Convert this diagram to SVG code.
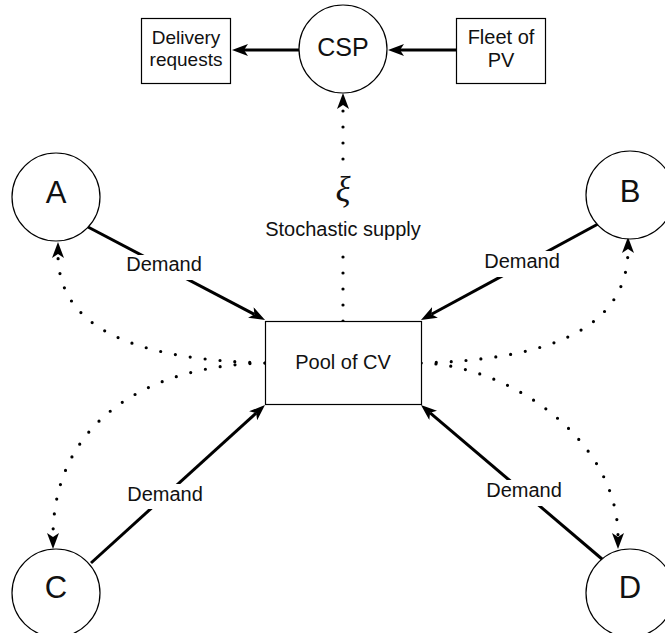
<svg xmlns="http://www.w3.org/2000/svg" width="665" height="633" viewBox="0 0 665 633">
<style>
.node{fill:#fff;stroke:#000;stroke-width:1.2}
.t{font-family:"Liberation Sans",Arial,sans-serif;fill:#111;text-anchor:middle}
.solid{fill:none;stroke:#000;stroke-width:3}
.dot{fill:none;stroke:#000;stroke-width:3.2;stroke-linecap:round;stroke-dasharray:0 15}
.lbl{fill:#fff;stroke:none}
</style>
<defs>
<marker id="arr" viewBox="0 0 16 12" refX="4" refY="6" markerWidth="16" markerHeight="12" markerUnits="userSpaceOnUse" orient="auto">
<path d="M0,0 L16,6 L0,12 L4,6 z" fill="#000"/>
</marker>
</defs>
<rect width="665" height="633" fill="#fff"/>
<g id="connectors">
<path class="solid" d="M299,50 L244,50" marker-end="url(#arr)"/>
<path class="solid" d="M456,50 L400,50" marker-end="url(#arr)"/>
<path class="dot" d="M343,159 L343,105" style="stroke-dasharray:0 16 0 16 0 16 0 60" marker-end="url(#arr)"/>
<path class="dot" d="M343,321 L343,255" style="stroke-dasharray:0 16"/>
<path class="dot" d="M265,363 C150,360 58,335 58,254" marker-end="url(#arr)"/>
<path class="dot" d="M265,363 C150,365 53,420 53,537" marker-end="url(#arr)"/>
<path class="dot" d="M421,363 C536,360 628,335 628,249" marker-end="url(#arr)"/>
<path class="dot" d="M421,363 C510,365 618,440 618,537" marker-end="url(#arr)"/>
<path class="solid" d="M88,227 L254.4,314.4" marker-end="url(#arr)"/>
<path class="solid" d="M598,224 L431.5,314.3" marker-end="url(#arr)"/>
<path class="solid" d="M91,563 L256.1,413.1" marker-end="url(#arr)"/>
<path class="solid" d="M602,559 L430.1,412.8" marker-end="url(#arr)"/>
<rect class="lbl" x="126" y="255" width="76" height="25"/>
<text class="t" x="164" y="271" font-size="20">Demand</text>
<rect class="lbl" x="484" y="251" width="76" height="26"/>
<text class="t" x="522" y="268" font-size="20">Demand</text>
<rect class="lbl" x="127" y="484" width="76" height="25"/>
<text class="t" x="165" y="501" font-size="20">Demand</text>
<rect class="lbl" x="486" y="480" width="76" height="26"/>
<text class="t" x="524" y="497" font-size="20">Demand</text>
<text x="343" y="201" font-size="35" font-style="italic" text-anchor="middle" font-family="'Liberation Serif','DejaVu Serif',serif" fill="#111">ξ</text>
<text class="t" x="343" y="236" font-size="20">Stochastic supply</text>
</g>
<g id="csp">
<circle class="node" cx="343" cy="49" r="44"/>
<text class="t" x="343" y="56" font-size="25">CSP</text>
</g>
<g id="delivery">
<rect class="node" x="141.5" y="18.5" width="89" height="65"/>
<text class="t" x="186" y="44" font-size="19">Delivery</text>
<text class="t" x="186" y="66" font-size="19">requests</text>
</g>
<g id="fleet">
<rect class="node" x="456.5" y="18.5" width="89" height="65"/>
<text class="t" x="501" y="44" font-size="20">Fleet of</text>
<text class="t" x="501" y="67" font-size="20">PV</text>
</g>
<g id="pool">
<rect class="node" x="265.5" y="321.5" width="156" height="83"/>
<text class="t" x="343" y="369" font-size="20">Pool of CV</text>
</g>
<g id="A">
<circle class="node" cx="56" cy="197" r="44"/>
<text class="t" x="56" y="203" font-size="31">A</text>
</g>
<g id="B">
<circle class="node" cx="630" cy="195" r="44"/>
<text class="t" x="630" y="202" font-size="31">B</text>
</g>
<g id="C">
<circle class="node" cx="56" cy="593" r="44"/>
<text class="t" x="56" y="598" font-size="31">C</text>
</g>
<g id="D">
<circle class="node" cx="630" cy="593" r="44"/>
<text class="t" x="630" y="598" font-size="31">D</text>
</g>
</svg>
